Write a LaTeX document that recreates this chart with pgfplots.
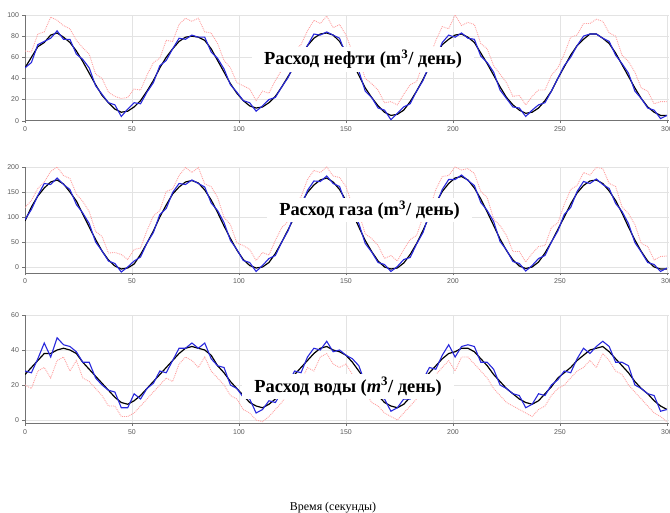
\documentclass[border=0pt]{standalone}
\usepackage{fontspec}
\setmainfont{Liberation Serif}
\setsansfont{Liberation Sans}
\usepackage{pgfplots}
\usepackage{pgfplotstable}
\pgfplotsset{compat=1.18}

\definecolor{lineblue}{RGB}{40,40,220}
\definecolor{lightred}{RGB}{255,160,160}

% t = time, b = blue, k = black, p = pink
\pgfplotstableread{
t b k p
0 50 50 66
3 55 60 65
6 72 70 82
9 75 74 84
12 78 81 98
15 85 83 95
18 77 79 90
21 77 74 87
24 63 66 76
27 58 56 69
30 50 45 63
33 33 34 44
36 25 24 40
39 17 17 27
42 15 11 23
45 4 8 21
48 11 9 22
51 17 13 30
54 16 19 29
57 27 28 43
60 36 38 55
63 52 50 59
66 57 60 76
69 68 68 75
72 78 75 91
75 77 79 97
78 81 80 94
81 79 79 97
84 79 76 84
87 65 68 83
90 59 57 73
93 49 46 57
96 34 35 50
99 27 26 36
102 19 19 33
105 17 14 30
108 9 12 19
111 14 13 28
114 20 17 26
117 22 23 38
120 32 32 48
123 41 42 52
126 54 52 66
129 60 62 72
132 71 71 85
135 82 78 95
138 81 82 92
141 84 83 99
144 81 81 88
147 78 75 91
150 62 65 81
153 56 55 65
156 47 43 58
159 28 31 40
162 22 22 35
165 12 14 29
168 10 8 17
171 1 5 18
174 7 6 15
177 13 10 25
180 16 18 34
183 28 28 37
186 38 39 54
189 53 51 59
192 59 62 76
195 74 72 89
198 81 77 87
201 79 81 100
204 83 82 90
207 78 79 93
210 77 74 91
213 61 64 73
216 55 54 68
219 46 43 52
222 29 32 44
225 21 22 36
228 13 15 23
231 12 10 24
234 4 7 15
237 10 8 23
240 15 12 29
243 17 19 29
246 28 28 43
249 40 40 50
252 52 51 63
255 60 62 79
258 71 71 81
261 80 77 92
264 82 82 92
267 82 82 96
270 78 78 94
273 75 73 83
276 62 64 80
279 54 53 62
282 45 42 56
285 28 31 46
288 21 21 31
291 12 13 28
294 10 8 16
297 2 5 18
300 5 5 18
}\oil

\pgfplotstableread{
t b k p
0 95 92 119
3 115 120 133
6 143 142 157
9 167 158 170
12 165 170 191
15 178 174 200
18 165 166 183
21 155 150 177
24 125 132 146
27 108 106 131
30 87 80 111
33 50 55 71
36 32 32 61
39 12 14 28
42 7 2 29
45 -10 -4 25
48 0 -2 15
51 12 6 35
54 20 25 38
57 48 48 73
60 69 72 102
63 105 100 113
66 117 124 151
69 149 146 156
72 167 160 183
75 165 170 199
78 174 173 189
81 167 168 199
84 160 154 166
87 128 134 161
90 113 109 139
93 89 82 99
96 53 57 85
99 35 34 48
102 13 15 43
105 9 3 35
108 -9 -2 13
111 3 0 29
114 17 9 24
117 23 27 53
120 50 50 79
123 73 75 91
126 107 101 129
129 121 127 140
132 153 149 175
135 172 164 193
138 171 174 189
141 182 178 200
144 167 170 182
147 161 155 179
150 125 133 161
153 111 108 123
156 87 80 109
159 47 53 66
162 30 31 57
165 9 12 43
168 5 0 17
171 -9 -4 23
174 1 -2 12
177 15 8 35
180 19 25 55
183 46 47 63
186 69 73 101
189 107 102 114
192 123 128 155
195 155 151 181
198 175 167 183
201 175 178 200
204 184 181 194
207 173 174 197
210 163 158 187
213 129 136 151
216 113 110 139
219 91 83 96
222 51 56 83
225 34 33 63
228 11 14 31
231 7 2 31
234 -8 -3 10
237 3 0 27
240 17 10 41
243 23 28 43
246 50 50 79
249 72 75 88
252 105 100 125
255 119 126 155
258 151 148 163
261 171 163 189
264 167 172 184
267 176 174 199
270 165 167 197
273 157 152 167
276 127 133 161
279 111 108 120
282 87 80 107
285 49 54 85
288 30 31 47
291 9 12 41
294 5 0 14
297 -9 -4 21
300 -2 -4 22
}\gas

\pgfplotstableread{
t b k p
0 28 26 20
3 27 30 18
6 35 34 28
9 44 38 30
12 36 38 24
15 47 40 34
18 43 41 36
21 42 40 28
24 39 38 34
27 33 33 24
30 33 29 22
33 24 25 18
36 20 21 14
39 17 17 8
42 16 13 8
45 7 10 2
48 7 9 2
51 15 11 4
54 12 14 8
57 18 18 12
60 21 22 16
63 28 26 20
66 27 30 24
69 34 34 22
72 41 38 32
75 41 41 36
78 44 42 34
81 41 41 30
84 44 40 36
87 35 37 28
90 31 31 24
93 30 27 20
96 20 22 14
99 18 18 12
102 13 14 6
105 12 10 4
108 4 8 0
111 6 7 -1
114 11 9 2
117 10 12 6
120 16 16 10
123 21 21 16
126 28 26 20
129 27 30 22
132 36 34 30
135 41 38 28
138 40 41 36
141 45 42 38
144 39 40 32
147 40 39 30
150 37 37 32
153 35 33 26
156 31 28 20
159 21 23 16
162 18 18 10
165 13 14 8
168 12 10 4
171 5 8 2
174 7 7 0
177 12 9 4
180 12 13 8
183 18 18 12
186 23 23 18
189 30 27 22
192 29 31 26
195 37 35 30
198 43 38 34
201 36 39 28
204 42 41 36
207 43 41 36
210 42 39 32
213 33 35 28
216 33 31 24
219 29 26 18
222 20 22 14
225 18 18 10
228 15 15 8
231 14 12 6
234 7 10 4
237 9 9 2
240 15 11 6
243 14 15 8
246 20 19 14
249 23 24 18
252 28 27 20
255 27 30 24
258 35 34 28
261 41 37 30
264 38 40 34
267 42 41 30
270 45 42 38
273 42 39 34
276 33 35 28
279 33 31 26
282 31 27 20
285 20 22 16
288 18 18 12
291 15 15 8
294 14 11 4
297 5 8 2
300 6 6 -1
}\water

\pgfplotsset{
  panel/.style={
    scale only axis,
    width=644.1bp,
    xmin=0, xmax=301,
    xtick={0,50,...,300},
    axis x line*=bottom,
    axis y line*=left,
    grid=major,
    major grid style={gray!22, line width=0.4pt},
    tick align=outside,
    major tick length=2.5bp,
    axis line style={black!55, line width=0.5pt},
    tick style={black!55},
    tick label style={font=\sffamily\fontsize{7}{8}\selectfont, text=black!65},
    /pgf/number format/assume math mode=true,
    anchor=south west,
  },
  pinkline/.style={lightred, densely dotted, line width=0.9pt},
  blackline/.style={black, line width=1.2pt},
  blueline/.style={lineblue, line width=1.1pt},
}
\tikzset{
  titlebox/.style={fill=white, inner xsep=12bp, inner ysep=3bp,
    font=\fontsize{18.5}{20}\selectfont\bfseries},
}

\begin{document}
\begin{tikzpicture}

\begin{axis}[panel, at={(25bp,392.3bp)}, height=105.7bp,
  ymin=0, ymax=100, ytick={0,20,...,100}]
  \addplot[pinkline] table[x=t, y=p] {\oil};
  \addplot[blackline] table[x=t, y=k] {\oil};
  \addplot[blueline] table[x=t, y=b] {\oil};
  \node[titlebox] at (axis cs:158,58) {Расход нефти (m\textsuperscript{3}/ день)};
\end{axis}

\begin{axis}[panel, at={(25bp,240bp)}, height=106bp,
  ymin=-12, ymax=200, ytick={0,50,...,200}]
  \addplot[pinkline] table[x=t, y=p] {\gas};
  \addplot[blackline] table[x=t, y=k] {\gas};
  \addplot[blueline] table[x=t, y=b] {\gas};
  \node[titlebox] at (axis cs:161,114) {Расход газа (m\textsuperscript{3}/ день)};
\end{axis}

\begin{axis}[panel, at={(25bp,89.5bp)}, height=108.5bp,
  ymin=-2, ymax=60, ytick={0,20,40,60}]
  \addplot[pinkline] table[x=t, y=p] {\water};
  \addplot[blackline] table[x=t, y=k] {\water};
  \addplot[blueline] table[x=t, y=b] {\water};
  \node[titlebox] at (axis cs:151,19) {Расход воды (\textit{m}\textsuperscript{3}/ день)};
\end{axis}

\node[font=\fontsize{12}{14}\selectfont] at (333bp,5bp) {Время (секунды)};

\pgfresetboundingbox
\path[use as bounding box] (0,0) rectangle (670bp,513bp);
\end{tikzpicture}
\end{document}
